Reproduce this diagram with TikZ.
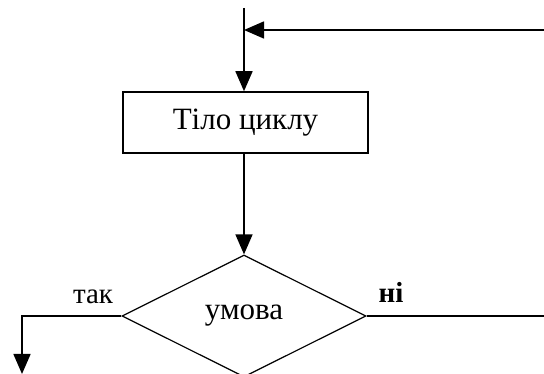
\documentclass[tikz,border=0pt]{standalone}
\usepackage{fontspec}
\setmainfont{Liberation Serif}
\usetikzlibrary{arrows.meta,shapes.geometric}
\begin{document}
\begin{tikzpicture}[x=1pt,y=-1pt,
  line width=1.5pt,
  flow/.style={-{Triangle[length=20pt,width=17pt]}},
  stepbox/.style={draw,rectangle,minimum width=245pt,minimum height=61pt,inner sep=0pt,font=\fontsize{31}{37}\selectfont},
  cond/.style={draw,diamond,minimum width=244pt,minimum height=122pt,inner sep=0pt,line width=1.2pt,font=\fontsize{31}{37}\selectfont},
  lbl/.style={font=\fontsize{29}{35}\selectfont,inner sep=0pt}]
\useasboundingbox (0,0) rectangle (544,374);
\coordinate (top) at (244,8);
\coordinate (rin) at (544,30);
\coordinate (join) at (244,30);
\node[stepbox] (body) at (245.5,122.5) {Тіло циклу};
\node[cond] (c) at (244,316) {умова};
\coordinate (lend) at (22,374);
\coordinate (rout) at (544,316);
\draw[flow] (top) -- (body.north -| top);
\draw[flow] (rin) -- (join);
\draw[flow] (body.south -| top) -- (c.north);
\draw[flow] (c.west) -| (lend);
\draw (c.east) -- (rout);
\node[lbl] (yes) at (93,297) {так};
\node[lbl,font=\bfseries\fontsize{29}{35}\selectfont] (no) at (391,292) {ні};
\end{tikzpicture}
\end{document}
